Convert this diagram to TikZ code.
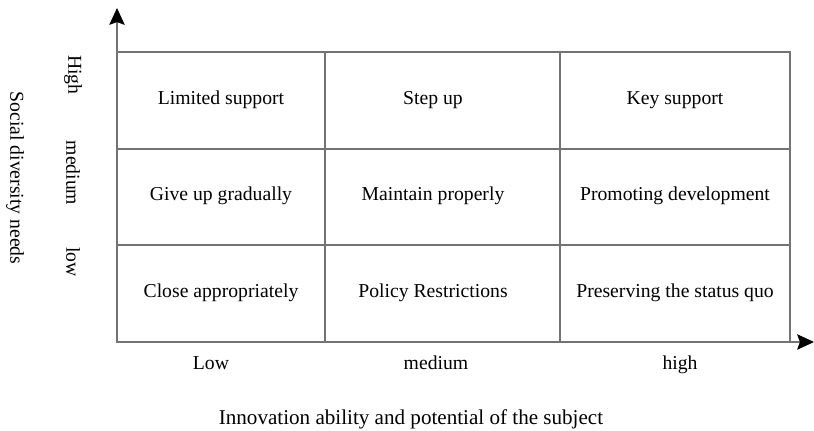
\documentclass[tikz,border=0pt]{standalone}
\usepackage{fontspec}
\setmainfont{Liberation Serif}
\usetikzlibrary{arrows.meta}
\tikzset{
  cella/.style={font=\fontsize{14}{16}\selectfont, text height=1.5ex, text depth=.25ex},
  livello/.style={font=\fontsize{14}{16}\selectfont, rotate=-90},
  griglia/.style={draw=black!55, line width=0.8pt},
  freccia/.style={-{Stealth[length=12pt,width=11pt,inset=2pt,black]}}
}
\begin{document}
\begin{tikzpicture}[x=0.025cm, y=-0.025cm]
         \useasboundingbox (0,0) rectangle (814,431);
         %assi
         \coordinate (O) at (117,342);
         \coordinate (ytop) at (117,8);
         \coordinate (xend) at (814,342);
         \draw[griglia, freccia] (O) -- (ytop);
         \draw[griglia, freccia] (O) -- (xend);
         %griglia
         \draw[griglia] (117,52) rectangle (790,342);
         \draw[griglia] (325,52) -- (325,342);
         \draw[griglia] (560,52) -- (560,342);
         \draw[griglia] (117,149) -- (790,149);
         \draw[griglia] (117,245) -- (790,245);
         %celle
         \node[cella] (hl) at (221,100) {Limited support};
         \node[cella] (hm) at (433,100) {Step up};
         \node[cella] (hh) at (675,100) {Key support};
         \node[cella] (ml) at (221,196) {Give up gradually};
         \node[cella] (mm) at (433,196) {Maintain properly};
         \node[cella] (mh) at (675,196) {Promoting development};
         \node[cella] (ll) at (221,293) {Close appropriately};
         \node[cella] (lm) at (433,293) {Policy Restrictions};
         \node[cella] (lh) at (675,293) {Preserving the status quo};
         %etichette
         \node[livello] (yhigh) at (73,75) {High};
         \node[livello] (ymed) at (73,173) {medium};
         \node[livello] (ylow) at (73,262) {low};
         \node[livello] (ytit) at (15,178) {Social diversity needs};
         \node[cella] (xlow) at (211,365) {Low};
         \node[cella] (xmed) at (436,365) {medium};
         \node[cella] (xhigh) at (680,365) {high};
         \node[cella, font=\fontsize{15}{17}\selectfont] (xtit) at (411,420) {Innovation ability and potential of the subject};
      \end{tikzpicture}
\end{document}
